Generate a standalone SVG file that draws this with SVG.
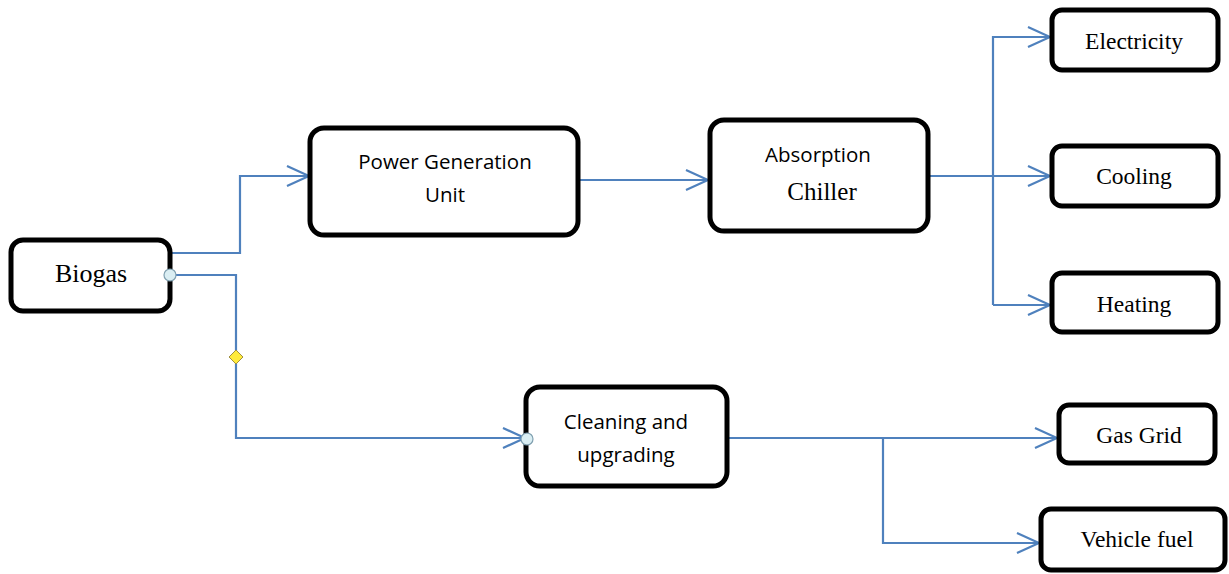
<svg xmlns="http://www.w3.org/2000/svg" width="1229" height="574" viewBox="0 0 1229 574">
<style>
.box{fill:#fff;stroke:#000;stroke-width:5}
.ln{fill:none;stroke:#4F81BD;stroke-width:2.2}
.serif{font-family:"Liberation Serif","Times New Roman",serif;font-size:23.5px;fill:#000;text-anchor:middle}
.sans{font-family:"Open Sans","Liberation Sans",sans-serif;font-size:20.5px;fill:#000;text-anchor:middle}
.pt{fill:#DAEEF3;stroke:#7F9FAF;stroke-width:1.2}
</style>
<defs>
<marker id="arr" viewBox="0 0 26 26" refX="24" refY="13" markerWidth="26" markerHeight="26" markerUnits="userSpaceOnUse" orient="auto">
<path d="M2,3 L24,13 L2,23" fill="none" stroke="#4F81BD" stroke-width="2.2"/>
</marker>
</defs>
<rect width="1229" height="574" fill="#fff"/>
<g id="connectors">
<path class="ln" d="M171,253 H240 V176 H309" marker-end="url(#arr)"/>
<path class="ln" d="M171,275 H236 V438 H525" marker-end="url(#arr)"/>
<path class="ln" d="M578,180 H708" marker-end="url(#arr)"/>
<path class="ln" d="M928,176 H1050" marker-end="url(#arr)"/>
<path class="ln" d="M993,305 V37 H1050" marker-end="url(#arr)"/>
<path class="ln" d="M993,305 H1050" marker-end="url(#arr)"/>
<path class="ln" d="M727,438 H1057" marker-end="url(#arr)"/>
<path class="ln" d="M883,438 V543 H1039" marker-end="url(#arr)"/>
</g>
<g id="biogas">
<rect class="box" x="11" y="240" width="159" height="71" rx="12"/>
<text class="serif" x="91" y="282" style="font-size:26px">Biogas</text>
</g>
<g id="pgu">
<rect class="box" x="310" y="128" width="268" height="107" rx="14"/>
<text class="sans" x="445" y="169">Power Generation</text>
<text class="sans" x="445" y="202">Unit</text>
</g>
<g id="chiller">
<rect class="box" x="710" y="120" width="218" height="111" rx="14"/>
<text class="sans" x="818" y="162">Absorption</text>
<text class="serif" x="822" y="200" style="font-size:25px">Chiller</text>
</g>
<g id="cleaning">
<rect class="box" x="526" y="387" width="201" height="99" rx="14"/>
<text class="sans" x="626" y="429">Cleaning and</text>
<text class="sans" x="626" y="462">upgrading</text>
</g>
<g id="electricity">
<rect class="box" x="1052" y="10" width="166" height="60" rx="10"/>
<text class="serif" x="1134" y="49">Electricity</text>
</g>
<g id="cooling">
<rect class="box" x="1052" y="146" width="166" height="60" rx="10"/>
<text class="serif" x="1134" y="184">Cooling</text>
</g>
<g id="heating">
<rect class="box" x="1052" y="273" width="166" height="59" rx="10"/>
<text class="serif" x="1134" y="312">Heating</text>
</g>
<g id="gasgrid">
<rect class="box" x="1059" y="405" width="156" height="58" rx="10"/>
<text class="serif" x="1139" y="443">Gas Grid</text>
</g>
<g id="vehiclefuel">
<rect class="box" x="1041" y="509" width="184" height="61" rx="10"/>
<text class="serif" x="1137" y="547">Vehicle fuel</text>
</g>
<g id="handles">
<circle class="pt" cx="170" cy="275" r="6"/>
<circle class="pt" cx="527" cy="439" r="6"/>
<path d="M236,350 L243,357 L236,364 L229,357 Z" fill="#FFEB3B" stroke="#A09040" stroke-width="1"/>
</g>
</svg>
